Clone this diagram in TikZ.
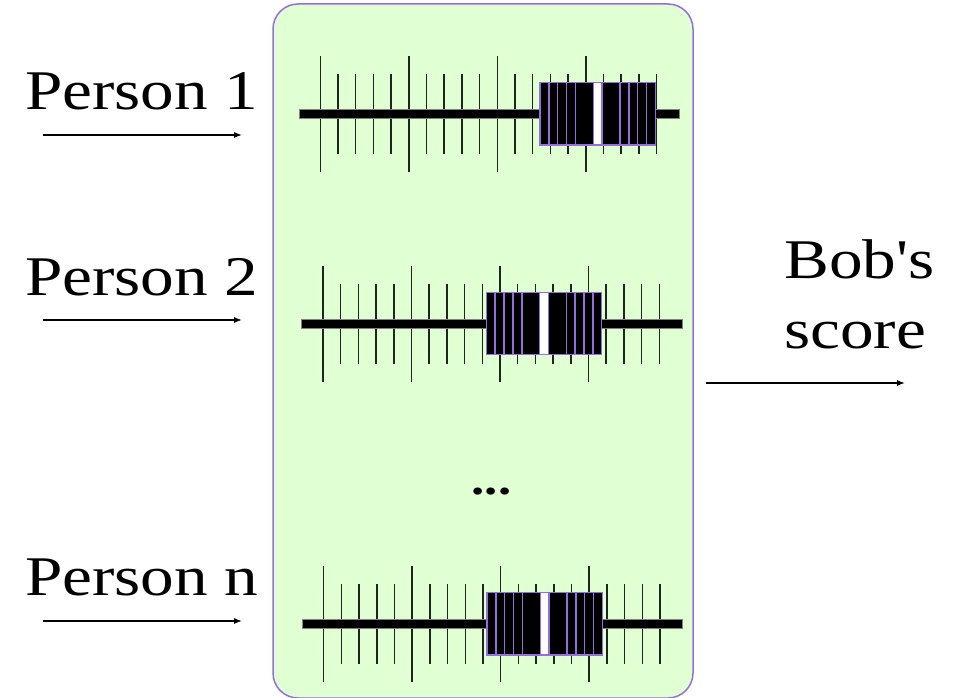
\documentclass[tikz,border=0pt]{standalone}
\usepackage{fontspec}
\setmainfont{Liberation Serif}[FakeStretch=1.2, Ligatures=TeXOff]
\usetikzlibrary{arrows.meta}

\definecolor{panelfill}{RGB}{224,255,210}
\definecolor{panelline}{RGB}{150,110,220}
\definecolor{tickcol}{RGB}{30,36,30}
\definecolor{barline}{RGB}{128,128,128}

\tikzset{
  panel/.style={draw=panelline, line width=1.5pt, fill=panelfill, rounded corners=25pt},
  tickmark/.style={draw=tickcol, line width=1.5pt},
  barstyle/.style={fill=black, draw=barline, line width=1pt},
  cellbox/.style={fill=black, draw=panelline, line width=1.4pt},
  cellline/.style={draw=panelline, line width=1.4pt},
  gapcell/.style={fill=white, draw=panelline, line width=1.4pt},
  label/.style={font=\fontsize{56}{70}\selectfont, inner sep=0pt, anchor=base west},
  feed/.style={line width=1.2pt, -{Latex[length=8pt,width=6pt]}},
  % a ruler: origin is the first long tick on the bar axis, #1 = left edge of the box
  pics/ruler/.style={code={
    \foreach \k in {0,...,19}{
      \pgfmathsetmacro\tl{ifthenelse(mod(\k,5)==0,58,40)}
      \draw[tickmark] (\k*17.7,-\tl) -- (\k*17.7,\tl);
    }
    \draw[barstyle] (-21.3,-4.3) rectangle (359,4.3);
    \begin{scope}[shift={(#1,0)}]
      \draw[cellbox] (0,-31.3) rectangle (13*8.88,30.9);
      \foreach \c in {1,2,3,4,9,10,11,12}
        \draw[cellline] (\c*8.88,-31.3) -- (\c*8.88,30.9);
      \draw[gapcell] (6*8.88,-31.3) rectangle (7*8.88,30.9);
    \end{scope}
  }}
}

\begin{document}
\begin{tikzpicture}[x=1pt, y=-1pt]
  \useasboundingbox (0,0) rectangle (958,698);

  % scoring panel
  \draw[panel] (273,4) rectangle (693,698);

  % one ruler per person
  \pic at (320.3,114) {ruler=219.7};
  \pic at (323,323.7) {ruler=163.3};
  \pic at (323.7,624) {ruler=163.3};

  \node (dots) at (491.5,494) [inner sep=0pt, anchor=base, font=\fontsize{44}{44}\selectfont\bfseries] {...};

  % inputs
  \node[label] (p1) at (25,110) {Person 1};
  \node[label] (p2) at (25,295) {Person 2};
  \node[label] (pn) at (25,595) {Person n};

  \coordinate (p1s) at (43,135);  \coordinate (p1e) at (242,135);
  \coordinate (p2s) at (43,320);  \coordinate (p2e) at (242,320);
  \coordinate (pns) at (43,621);  \coordinate (pne) at (242,621);
  \draw[feed] (p1s) -- (p1e);
  \draw[feed] (p2s) -- (p2e);
  \draw[feed] (pns) -- (pne);

  % output (base anchor sits on the last line)
  \node[label, align=left] (bob) at (784,348) {Bob's\\score};
  \coordinate (outs) at (706,383);  \coordinate (oute) at (905,383);
  \draw[feed] (outs) -- (oute);
\end{tikzpicture}
\end{document}
